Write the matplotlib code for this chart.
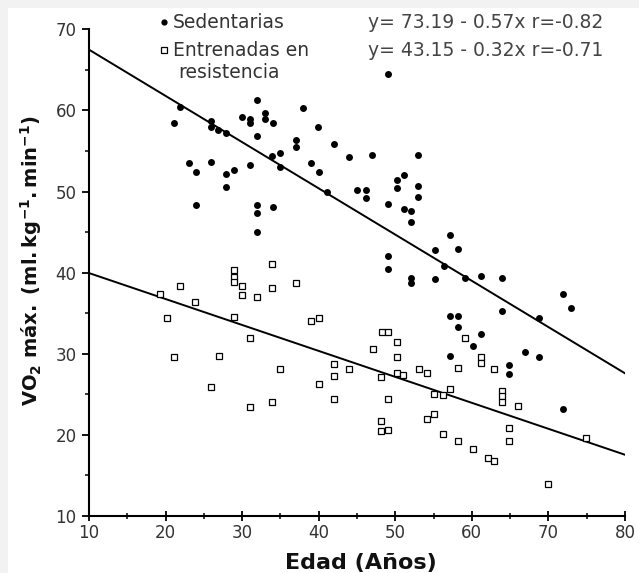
import matplotlib
matplotlib.use("Agg")
import matplotlib.pyplot as plt
import numpy as np
from matplotlib.patches import Rectangle

# Sedentarias (filled dots): age, VO2max
sed_age = [21.9, 21.1, 25.9, 25.9, 26.9, 27.9, 31.9, 30.0, 31.0, 31.0,
           33.0, 33.0, 34.0, 31.9, 37.9, 39.9, 42.0, 37.0, 37.0, 35.0,
           33.9, 35.0, 39.0, 40.0, 41.1, 44.0, 45.0, 23.0, 24.0, 25.9,
           27.9, 29.0, 31.0, 27.9, 24.0, 31.9, 31.9, 34.0, 31.9, 49.1,
           47.0, 53.0, 51.1, 50.2, 50.2, 46.2, 46.2, 53.0, 53.0, 49.1,
           51.1, 52.1, 52.1, 57.1, 58.2, 55.2, 49.1, 49.1, 52.1, 52.1,
           55.2, 56.3, 59.1, 61.2, 64.0, 71.9, 72.9, 64.0, 68.8, 57.1,
           58.2, 58.2, 61.2, 60.2, 57.1, 66.9, 68.8, 64.9, 64.9, 71.9]
sed_vo2 = [60.4, 58.4, 58.7, 58.0, 57.6, 57.2, 61.3, 59.2, 59.0, 58.5,
           59.7, 59.0, 58.4, 56.8, 60.3, 57.9, 55.8, 56.3, 55.5, 54.7,
           54.4, 53.0, 53.5, 52.4, 49.9, 54.3, 50.2, 53.5, 52.4, 53.7,
           52.2, 52.6, 53.3, 50.6, 48.3, 48.4, 47.4, 48.1, 45.0, 64.5,
           54.5, 54.5, 52.0, 51.4, 50.4, 50.2, 49.2, 50.7, 49.3, 48.5,
           47.9, 47.6, 46.3, 44.7, 42.9, 42.8, 42.0, 40.5, 39.4, 38.7,
           39.2, 40.8, 39.4, 39.6, 39.4, 37.4, 35.7, 35.3, 34.4, 34.6,
           34.6, 33.3, 32.4, 30.9, 29.7, 30.2, 29.6, 28.6, 27.5, 23.2]

# Entrenadas en resistencia (open squares)
ent_age = [19.3, 21.9, 23.9, 20.2, 21.1, 27.0, 25.9, 29.0, 29.0, 29.0,
           30.0, 30.0, 31.9, 33.9, 33.9, 37.0, 29.0, 31.0, 39.0, 40.0,
           35.0, 31.0, 33.9, 40.0, 42.0, 42.0, 42.0, 44.0, 48.2, 49.1,
           47.1, 50.2, 50.2, 48.1, 49.1, 48.1, 48.1, 49.1, 50.2, 51.0,
           53.1, 54.2, 58.2, 59.1, 61.2, 61.2, 62.9, 57.1, 55.1, 56.2,
           55.1, 54.2, 56.2, 58.2, 60.2, 62.1, 62.9, 64.0, 64.0, 64.0,
           66.0, 64.9, 64.9, 70.0, 74.9]
ent_vo2 = [37.4, 38.3, 36.4, 34.4, 29.6, 29.7, 25.9, 40.3, 39.5, 38.9,
           38.3, 37.3, 37.0, 41.1, 38.1, 38.7, 34.5, 32.0, 34.1, 34.4,
           28.1, 23.4, 24.0, 26.3, 28.7, 27.3, 24.4, 28.1, 32.7, 32.7,
           30.6, 31.4, 29.6, 27.1, 24.4, 21.7, 20.5, 20.6, 27.6, 27.4,
           28.1, 27.6, 28.2, 32.0, 29.6, 28.9, 28.1, 25.6, 25.0, 24.9,
           22.6, 21.9, 20.1, 19.3, 18.3, 17.1, 16.8, 25.4, 24.8, 24.1,
           23.6, 20.9, 19.3, 14.0, 19.6]

# regression lines (from the equations printed on the chart)
intercepts = [73.19, 43.15]
slopes = [-0.57, -0.32]
line_x = [10, 80]
equations = ["y= 73.19 - 0.57x r=-0.82", "y= 43.15 - 0.32x r=-0.71"]

W, H = 639, 573
fig = plt.figure(figsize=(W / 100, H / 100), dpi=100)
fig.patch.set_facecolor("#f2f2f2")
fig.patches.append(Rectangle((8 / W, 0), 1, 1 - 8 / H, transform=fig.transFigure,
                             facecolor="white", edgecolor="none", zorder=-5))

ax = fig.add_axes([89 / W, 1 - 516 / H, 536 / W, 486.7 / H])
ax.set_facecolor("none")

for b, m in zip(intercepts, slopes):
    xs = np.array(line_x)
    ax.plot(xs, b + m * xs, color="black", lw=1.4, zorder=2)

ax.plot(sed_age, sed_vo2, "o", ms=5, color="black", mew=0, zorder=3, clip_on=False)
ax.plot(ent_age, ent_vo2, "s", ms=4.6, mfc="white", mec="black", mew=0.9, zorder=3,
        clip_on=False)

ax.set_xlim(10, 80)
ax.set_ylim(10, 70)
ax.set_xticks(range(10, 81, 10))
ax.set_yticks(range(10, 71, 10))
ax.set_xticks(range(15, 80, 10), minor=True)
ax.set_yticks(range(15, 70, 10), minor=True)
for s in ["top", "right"]:
    ax.spines[s].set_visible(False)
for s in ["left", "bottom"]:
    ax.spines[s].set_linewidth(1.5)
ax.tick_params(axis="x", which="major", direction="inout", length=7, width=1.3,
               labelsize=12, labelcolor="#333333", pad=2)
ax.tick_params(axis="x", which="minor", direction="inout", length=4, width=1.1)
ax.tick_params(axis="y", which="major", direction="out", length=5, width=1.3,
               labelsize=12, labelcolor="#333333", pad=4)
ax.tick_params(axis="y", which="minor", direction="out", length=3, width=1.1)

fig.text(361 / W, 1 - 563 / H, "Edad (Años)", fontsize=16, fontweight="bold",
         ha="center", va="center", color="#111111")
fig.text(31 / W, 1 - 261 / H,
         r"$\mathbf{VO_2\ máx.\ (ml.kg^{-1}.min^{-1})}$",
         rotation=90, fontsize=14, ha="center", va="center", color="#111111")

# legend drawn by hand (marker + text)
fig.add_artist(plt.Line2D([164 / W], [1 - 22 / H], marker="o", ms=4.5, color="black",
                          mew=0, ls="none", transform=fig.transFigure))
fig.add_artist(plt.Line2D([164 / W], [1 - 50 / H], marker="s", ms=4, mfc="white",
                          mec="black", mew=0.9, ls="none", transform=fig.transFigure))
fig.text(173 / W, 1 - 22 / H, "Sedentarias", fontsize=13.5, color="#333333", va="center")
fig.text(173 / W, 1 - 50 / H, "Entrenadas en", fontsize=13.5, color="#333333", va="center")
fig.text(178 / W, 1 - 73 / H, "resistencia", fontsize=13.5, color="#333333", va="center")

for i, eq in enumerate(equations):
    fig.text(368 / W, 1 - (22 + 28 * i) / H, eq, fontsize=13.5, color="#444444",
             va="center")

fig.savefig("out.png", dpi=100, facecolor=fig.get_facecolor())
